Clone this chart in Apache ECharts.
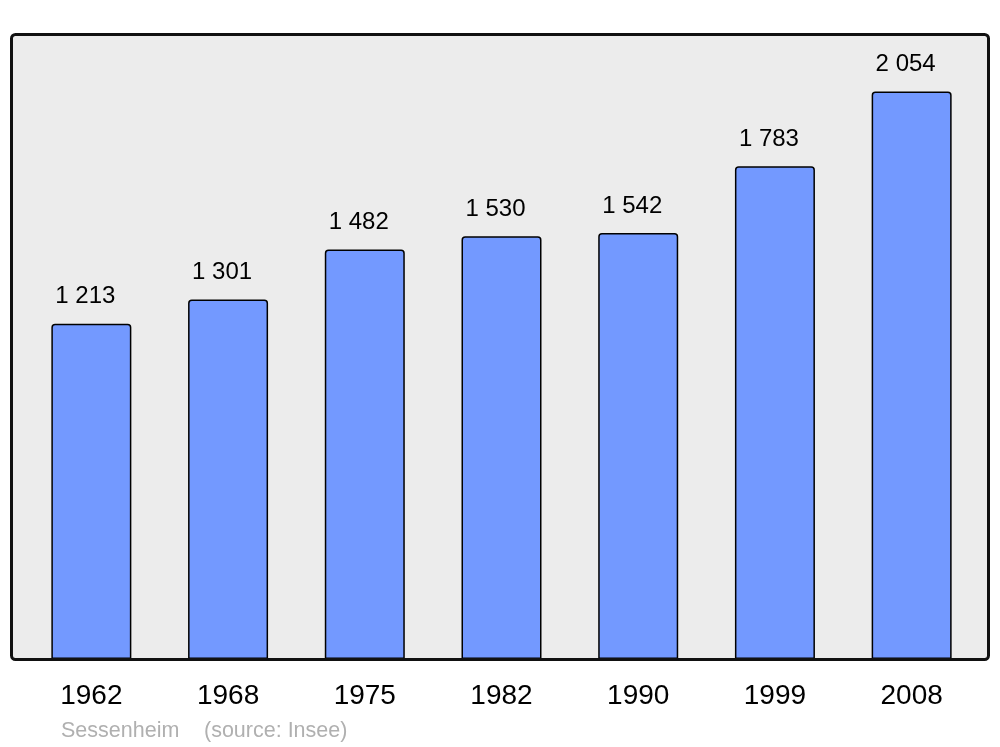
<!DOCTYPE html>
<html>
<head>
<meta charset="utf-8">
<style>html,body{margin:0;padding:0;background:#fff}#c{width:1000px;height:747px}</style>
<script src="https://cdn.jsdelivr.net/npm/echarts@6/dist/echarts.min.js"></script>
</head>
<body>
<div id="c"></div>
<script>
const years = ['1962', '1968', '1975', '1982', '1990', '1999', '2008'];
const population = [1213, 1301, 1482, 1530, 1542, 1783, 2054];
const captionName = 'Sessenheim';
const captionSource = '(source: Insee)';

const chart = echarts.init(document.getElementById('c'), null, {renderer: 'canvas'});
function fmt(v) {
  return String(v).replace(/\B(?=(\d{3})+(?!\d))/g, ' ');
}
const font = 'Liberation Sans, Arial, sans-serif';
chart.setOption({
  animation: false,
  backgroundColor: '#ffffff',
  grid: {left: 23, right: 20, top: 34, bottom: 88},
  xAxis: {
    type: 'category',
    data: years,
    boundaryGap: true,
    axisLine: {show: false},
    axisTick: {show: false},
    axisLabel: {
      fontFamily: font,
      fontSize: 28,
      color: '#000',
      margin: 23
    }
  },
  yAxis: {
    type: 'value',
    min: 0,
    max: 2262,
    show: false,
    splitLine: {show: false}
  },
  graphic: [
    {
      type: 'rect', z: -10, silent: true,
      shape: {x: 11.5, y: 34.5, width: 977, height: 625, r: 4},
      style: {fill: '#ececec', stroke: null}
    },
    {
      type: 'rect', z: 100, silent: true,
      shape: {x: 11.5, y: 34.5, width: 977, height: 625, r: 4},
      style: {fill: null, stroke: '#111111', lineWidth: 3}
    },
    {
      type: 'text', left: 61, top: 720, silent: true,
      style: {text: captionName, fontFamily: font, fontSize: 21.5, fill: '#b0b0b0'}
    },
    {
      type: 'text', left: 204, top: 720, silent: true,
      style: {text: captionSource, fontFamily: font, fontSize: 21.5, fill: '#b0b0b0'}
    }
  ],
  series: [{
    type: 'bar',
    data: population,
    barWidth: 80,
    itemStyle: {
      color: '#7399ff',
      borderColor: '#000',
      borderWidth: 1.5,
      borderRadius: [3, 3, 0, 0]
    },
    label: {
      show: true,
      position: 'top',
      distance: 15,
      offset: [-6, 0],
      fontFamily: font,
      fontSize: 24,
      color: '#000',
      formatter: p => fmt(p.value)
    }
  }]
});
</script>
</body>
</html>
